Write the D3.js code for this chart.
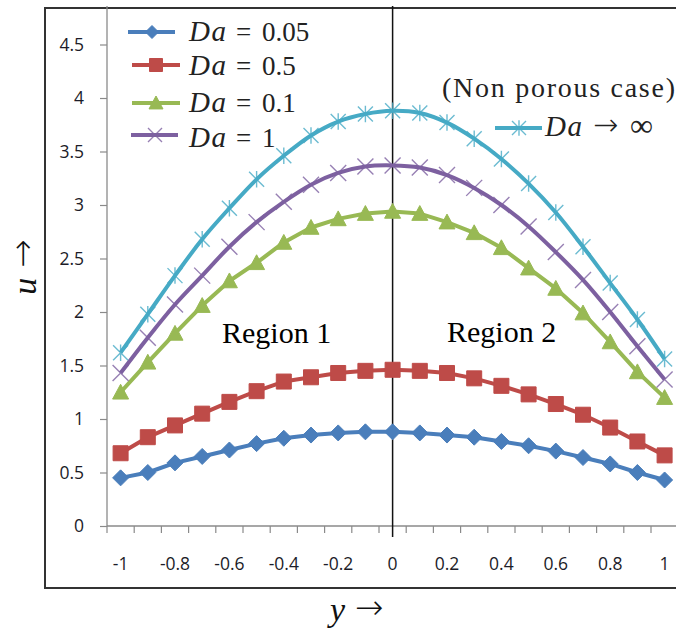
<!DOCTYPE html>
<html>
<head>
<meta charset="utf-8">
<script src="https://cdn.jsdelivr.net/npm/d3@7"></script>
<style>
  html, body { margin: 0; padding: 0; background: #fff; }
  svg { display: block; }
</style>
</head>
<body>
<svg id="chart" width="676" height="631"></svg>
<script>
// ---------- data ----------
const categories = [-1, -0.9, -0.8, -0.7, -0.6, -0.5, -0.4, -0.3, -0.2, -0.1, 0,
                    0.1, 0.2, 0.3, 0.4, 0.5, 0.6, 0.7, 0.8, 0.9, 1];
const xTickLabels = ["-1", "-0.8", "-0.6", "-0.4", "-0.2", "0", "0.2", "0.4", "0.6", "0.8", "1"];
const xTickValues = [-1, -0.8, -0.6, -0.4, -0.2, 0, 0.2, 0.4, 0.6, 0.8, 1];
const yTickValues = [0, 0.5, 1, 1.5, 2, 2.5, 3, 3.5, 4, 4.5];
const yTickLabels = ["0", "0.5", "1", "1.5", "2", "2.5", "3", "3.5", "4", "4.5"];

const daLabels = ["0.05", "0.5", "0.1", "1"];
const da005 = [0.45, 0.50, 0.59, 0.65, 0.71, 0.77, 0.82, 0.85, 0.87, 0.88, 0.88,
               0.87, 0.85, 0.83, 0.79, 0.75, 0.70, 0.64, 0.58, 0.50, 0.43];
const da05  = [0.68, 0.83, 0.94, 1.05, 1.16, 1.26, 1.35, 1.39, 1.43, 1.45, 1.46,
               1.45, 1.43, 1.38, 1.31, 1.23, 1.14, 1.04, 0.92, 0.79, 0.66];
const da01  = [1.25, 1.53, 1.80, 2.06, 2.29, 2.46, 2.65, 2.79, 2.87, 2.92, 2.94,
               2.92, 2.84, 2.74, 2.60, 2.41, 2.22, 1.99, 1.72, 1.44, 1.20];
const da1   = [1.43, 1.76, 2.07, 2.34, 2.61, 2.84, 3.03, 3.19, 3.30, 3.36, 3.37,
               3.35, 3.28, 3.16, 3.00, 2.80, 2.56, 2.30, 2.00, 1.68, 1.37];
const daInf = [1.62, 1.98, 2.34, 2.68, 2.97, 3.24, 3.46, 3.65, 3.78, 3.85, 3.88,
               3.86, 3.77, 3.62, 3.43, 3.20, 2.93, 2.61, 2.27, 1.93, 1.56];
const regionLabels = ["Region 1", "Region 2"];
const infLabel = "(Non porous case)";

// ---------- styles ----------
const series = [
  {values: da005, color: "#4A7EBB", marker: "diamond", smooth: false, label: daLabels[0]},
  {values: da05,  color: "#BE4B48", marker: "square",  smooth: false, label: daLabels[1]},
  {values: da01,  color: "#98B954", marker: "triangle",smooth: false, label: daLabels[2]},
  {values: da1,   color: "#7D60A0", marker: "x",       smooth: true,  label: daLabels[3]},
  {values: daInf, color: "#46AAC5", marker: "star",    smooth: true,  label: "inf"}
];

const svg = d3.select("#chart");
const catStep = 0.1;
const x = d3.scaleLinear().domain([-1 - catStep / 2, 1 + catStep / 2]).range([107, 678.2]);
const y = d3.scaleLinear().domain([0, 4.5]).range([526, 44.5]);
const axisTop = 4.86;

// outer frame
svg.append("rect").attr("x", 45).attr("y", 8).attr("width", 660).attr("height", 580)
  .attr("fill", "none").attr("stroke", "#333").attr("stroke-width", 2);

const axisColor = "#8a8a8a";
const tickFont = "'Open Sans', 'Liberation Sans', sans-serif";
const serifFont = "'Liberation Serif', 'Times New Roman', serif";
const arrowFont = "'DejaVu Sans', sans-serif";

// y axis
const yAxis = svg.append("g").attr("transform", `translate(${x.range()[0]},0)`)
  .call(d3.axisLeft(y).tickValues(yTickValues).tickFormat((d, i) => yTickLabels[i])
    .tickSizeOuter(0).tickSizeInner(7).tickPadding(16));
yAxis.select(".domain").remove();
yAxis.selectAll(".tick line").attr("stroke", axisColor).attr("stroke-width", 1.2);
yAxis.selectAll(".tick text").attr("font-family", tickFont).attr("font-size", 17.5).attr("fill", "#1c1c28");
svg.append("line").attr("x1", x.range()[0]).attr("x2", x.range()[0])
  .attr("y1", y(0)).attr("y2", y(axisTop)).attr("stroke", axisColor).attr("stroke-width", 1.3);

// x axis (category boundaries as tick marks)
const boundaries = d3.range(categories.length + 1).map(i => -1 - catStep / 2 + i * catStep);
const xg = svg.append("g");
xg.append("line").attr("x1", x.range()[0]).attr("x2", 676).attr("y1", y(0)).attr("y2", y(0))
  .attr("stroke", axisColor).attr("stroke-width", 1.3);
xg.selectAll("line.tk").data(boundaries).join("line").attr("class", "tk")
  .attr("x1", d => x(d)).attr("x2", d => x(d)).attr("y1", y(0)).attr("y2", y(0) + 7)
  .attr("stroke", axisColor).attr("stroke-width", 1.2);
xg.selectAll("text").data(xTickValues).join("text")
  .attr("x", d => x(d)).attr("y", 570).attr("text-anchor", "middle")
  .attr("font-family", tickFont).attr("font-size", 17.5).attr("fill", "#1c1c28")
  .text((d, i) => xTickLabels[i]);

// vertical line at 0
svg.append("line").attr("x1", x(0)).attr("x2", x(0)).attr("y1", y(axisTop)).attr("y2", 537)
  .attr("stroke", "#111").attr("stroke-width", 1.5);

// marker shapes
function markerPath(type, s) {
  const h = s / 2;
  switch (type) {
    case "diamond": return `M0,${-h}L${h},0L0,${h}L${-h},0Z`;
    case "square": return `M${-h},${-h}H${h}V${h}H${-h}Z`;
    case "triangle": return `M0,${-h}L${h},${h * 0.85}L${-h},${h * 0.85}Z`;
    case "x": return `M${-h},${-h}L${h},${h}M${h},${-h}L${-h},${h}`;
    case "star": return `M${-h},${-h}L${h},${h}M${h},${-h}L${-h},${h}M0,${-h * 1.1}V${h * 1.1}`;
  }
}
function drawMarker(g, type, color, s) {
  const filled = type === "diamond" || type === "square" || type === "triangle";
  g.append("path").attr("d", markerPath(type, s))
    .attr("fill", filled ? color : "none")
    .attr("stroke", color)
    .attr("stroke-width", filled ? 1 : 1.4)
    .attr("stroke-opacity", filled ? 1 : 0.8);
}
const markerSize = {diamond: 16, square: 15, triangle: 16, x: 16, star: 15};

// series
series.forEach(s => {
  const line = d3.line().x((d, i) => x(categories[i])).y(d => y(d))
    .curve(s.smooth ? d3.curveCatmullRom.alpha(0.5) : d3.curveLinear);
  const g = svg.append("g");
  g.append("path").datum(s.values).attr("d", line)
    .attr("fill", "none").attr("stroke", s.color).attr("stroke-width", 4)
    .attr("stroke-linejoin", "round");
  s.values.forEach((v, i) => {
    const mg = g.append("g").attr("transform", `translate(${x(categories[i])},${y(v)})`);
    drawMarker(mg, s.marker, s.color, markerSize[s.marker]);
  });
});

// legend
const legendRows = [
  {lineY: 32, baseY: 41, x1: 128, x2: 175, mx: 152, msz: 13},
  {lineY: 65, baseY: 75, x1: 132, x2: 180, mx: 156, msz: 13},
  {lineY: 103, baseY: 112, x1: 132, x2: 180, mx: 156, msz: 14},
  {lineY: 135, baseY: 147, x1: 131, x2: 178, mx: 155, msz: 14}
];
legendRows.forEach((r, i) => {
  const s = series[i];
  const g = svg.append("g");
  g.append("line").attr("x1", r.x1).attr("x2", r.x2).attr("y1", r.lineY).attr("y2", r.lineY)
    .attr("stroke", s.color).attr("stroke-width", 4);
  const mg = g.append("g").attr("transform", `translate(${r.mx},${r.lineY})`);
  drawMarker(mg, s.marker, s.color, r.msz);
  const t = g.append("text").attr("y", r.baseY).attr("font-family", serifFont)
    .attr("font-size", 27).attr("fill", "#222");
  t.append("tspan").attr("x", 189).attr("font-style", "italic").attr("font-size", 29)
    .attr("letter-spacing", 1.5).text("Da");
  t.append("tspan").attr("x", 236).text("=");
  t.append("tspan").attr("x", 262).text(s.label);
});

// Da -> infinity legend
{
  const s = series[4];
  const g = svg.append("g");
  g.append("text").attr("x", 442).attr("y", 97).attr("font-family", serifFont)
    .attr("font-size", 28).attr("fill", "#222")
    .attr("textLength", 233).attr("lengthAdjust", "spacing").text(infLabel);
  g.append("line").attr("x1", 495).attr("x2", 542).attr("y1", 128).attr("y2", 128)
    .attr("stroke", s.color).attr("stroke-width", 4);
  const mg = g.append("g").attr("transform", `translate(519,128)`);
  drawMarker(mg, s.marker, s.color, 14);
  const t = g.append("text").attr("y", 136).attr("font-family", serifFont)
    .attr("font-size", 27).attr("fill", "#222");
  t.append("tspan").attr("x", 545).attr("font-style", "italic").attr("font-size", 29)
    .attr("letter-spacing", 1.5).text("Da");
  t.append("tspan").attr("x", 593).attr("y", 135).attr("font-family", arrowFont)
    .attr("font-size", 30).attr("font-weight", 200).text("→");
  t.append("tspan").attr("x", 630).attr("y", 136).attr("font-size", 32).text("∞");
}

// region labels
svg.append("text").attr("x", 222).attr("y", 343).attr("font-family", serifFont)
  .attr("font-size", 30).attr("fill", "#000").text(regionLabels[0]);
svg.append("text").attr("x", 447).attr("y", 342).attr("font-family", serifFont)
  .attr("font-size", 30).attr("fill", "#000").text(regionLabels[1]);

// axis titles
const ut = svg.append("text").attr("transform", "translate(36,267) rotate(-90)")
  .attr("text-anchor", "middle").attr("font-family", serifFont).attr("font-size", 34).attr("fill", "#111");
ut.append("tspan").attr("font-style", "italic").text("u");
ut.append("tspan").attr("dx", 10).attr("dy", -2).attr("font-family", arrowFont)
  .attr("font-size", 34).attr("font-weight", 200).text("→");

const yt = svg.append("text").attr("x", 330).attr("y", 621)
  .attr("font-family", serifFont).attr("font-size", 34).attr("fill", "#111");
yt.append("tspan").attr("font-style", "italic").text("y");
yt.append("tspan").attr("dx", 10).attr("dy", -2).attr("font-family", arrowFont)
  .attr("font-size", 34).attr("font-weight", 200).text("→");
</script>
</body>
</html>
